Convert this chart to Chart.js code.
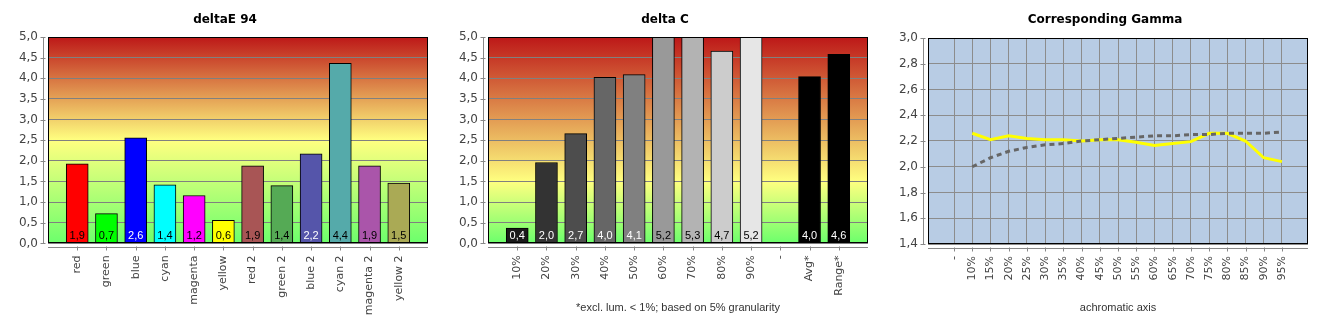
<!DOCTYPE html>
<html>
<head>
<meta charset="utf-8">
<title>deltaE 94 / delta C / Corresponding Gamma</title>
<script src="https://cdn.jsdelivr.net/npm/chart.js@4.4.1/dist/chart.umd.min.js"></script>
<style>
  html, body { margin: 0; padding: 0; background: #fff; }
  #wrap { position: relative; width: 1330px; height: 330px; }
  canvas { position: absolute; top: 0; }
</style>
</head>
<body>
<div id="wrap">
  <canvas id="deltaE" width="440" height="330" style="left:0"></canvas>
  <canvas id="deltaC" width="440" height="330" style="left:440px"></canvas>
  <canvas id="gamma" width="440" height="330" style="left:880px"></canvas>
</div>
<script>
// deltaE 94
const deltaELabels = ['red', 'green', 'blue', 'cyan', 'magenta', 'yellow', 'red 2', 'green 2', 'blue 2', 'cyan 2', 'magenta 2', 'yellow 2'];
const deltaEValues = [1.93, 0.72, 2.56, 1.42, 1.16, 0.56, 1.88, 1.40, 2.17, 4.36, 1.88, 1.46];
const deltaEColors = ['#ff0000', '#00ff00', '#0000ff', '#00ffff', '#ff00ff', '#ffff00', '#a85555', '#55aa55', '#5555aa', '#55aaaa', '#aa55aa', '#aaaa55'];
const deltaETextColors = ['#000', '#000', '#fff', '#000', '#000', '#000', '#000', '#000', '#fff', '#000', '#000', '#000'];

// delta C
const deltaCLabels = ['10%', '20%', '30%', '40%', '50%', '60%', '70%', '80%', '90%', '-', 'Avg*', 'Range*'];
const deltaCValues = [0.37, 1.96, 2.66, 4.02, 4.09, 5.2, 5.3, 4.66, 5.2, null, 4.04, 4.58];
const deltaCColors = ['#1a1a1a', '#333333', '#4d4d4d', '#666666', '#808080', '#999999', '#b3b3b3', '#cccccc', '#e6e6e6', '#000000', '#000000', '#000000'];
const deltaCTextColors = ['#fff', '#fff', '#fff', '#fff', '#fff', '#000', '#000', '#000', '#000', '#fff', '#fff', '#fff'];
const deltaCNote = '*excl. lum. < 1%; based on 5% granularity';

// Corresponding Gamma
const gammaLabels = ['-', '10%', '15%', '20%', '25%', '30%', '35%', '40%', '45%', '50%', '55%', '60%', '65%', '70%', '75%', '80%', '85%', '90%', '95%'];
const gammaMeasured = [null, 2.26, 2.21, 2.24, 2.22, 2.21, 2.21, 2.20, 2.21, 2.21, 2.19, 2.165, 2.18, 2.195, 2.26, 2.26, 2.20, 2.07, 2.04];
const gammaTarget = [null, 2.00, 2.07, 2.12, 2.15, 2.17, 2.18, 2.20, 2.21, 2.22, 2.23, 2.24, 2.24, 2.25, 2.25, 2.26, 2.26, 2.26, 2.27];

Chart.defaults.font.family = '"DejaVu Sans", sans-serif';

const comma = v => v.toFixed(1).replace('.', ',');

function panelTitle(text) {
    return {
        id: 'panelTitle',
        afterDraw(chart) {
            const ctx = chart.ctx;
            ctx.save();
            ctx.font = 'bold 12px "DejaVu Sans"';
            ctx.fillStyle = '#000';
            ctx.textAlign = 'center';
            ctx.textBaseline = 'middle';
            ctx.fillText(text, 225, 20);
            ctx.restore();
        }
    };
}

function plotBackground(stops) {
    return {
        id: 'plotBackground',
        beforeDraw(chart) {
            const { ctx, chartArea: a } = chart;
            ctx.save();
            if (Array.isArray(stops)) {
                const g = ctx.createLinearGradient(0, a.top, 0, a.bottom);
                stops.forEach(s => g.addColorStop(s[0], s[1]));
                ctx.fillStyle = g;
            } else {
                ctx.fillStyle = stops;
            }
            ctx.fillRect(a.left, a.top, a.right - a.left, a.bottom - a.top);
            ctx.restore();
        }
    };
}

// frame round the plot, plus the offset axis lines with their tick marks
const frameAndAxes = {
    id: 'frameAndAxes',
    afterDraw(chart) {
        const { ctx, chartArea: a, scales: { x, y } } = chart;
        ctx.save();
        ctx.lineWidth = 1;
        ctx.strokeStyle = '#000';
        ctx.strokeRect(Math.round(a.left) + 0.5, Math.round(a.top) + 0.5,
            Math.round(a.right - a.left) - 1, Math.round(a.bottom - a.top) - 1);

        ctx.strokeStyle = '#888';
        ctx.beginPath();
        const ax = Math.round(a.left) - 5 + 0.5;
        ctx.moveTo(ax, a.top);
        ctx.lineTo(ax, a.bottom);
        y.ticks.forEach(t => {
            const py = Math.round(y.getPixelForValue(t.value)) + 0.5;
            ctx.moveTo(ax - 3, py);
            ctx.lineTo(ax + 2, py);
        });
        const ay = Math.round(a.bottom) + 4 + 0.5;
        ctx.moveTo(a.left, ay);
        ctx.lineTo(a.right, ay);
        x.ticks.forEach(t => {
            const px = Math.round(x.getPixelForValue(t.value)) + 0.5;
            ctx.moveTo(px, ay - 1);
            ctx.lineTo(px, ay + 3);
        });
        ctx.stroke();
        ctx.restore();
    }
};

function barValues(textColors) {
    return {
        id: 'barValues',
        afterDatasetsDraw(chart) {
            const { ctx, chartArea: a } = chart;
            const meta = chart.getDatasetMeta(0);
            const ds = chart.data.datasets[0];
            ctx.save();
            ctx.font = '11px "Liberation Sans"';
            ctx.textAlign = 'center';
            ctx.textBaseline = 'middle';
            meta.data.forEach((bar, i) => {
                const v = ds.data[i].y;
                if (v === null) return;
                ctx.fillStyle = textColors[i];
                ctx.fillText(comma(v), bar.x, a.bottom - 7.5);
            });
            ctx.restore();
        }
    };
}

const tickFont = { family: '"DejaVu Sans"', size: 12 };
const catFont = { family: '"DejaVu Sans"', size: 11 };

function barChart(id, title, labels, values, colors, textColors, stops, note) {
    return new Chart(document.getElementById(id), {
        type: 'bar',
        data: {
            datasets: [{
                data: values.map((v, i) => ({ x: i, y: v })),
                backgroundColor: colors,
                borderColor: '#000',
                borderWidth: 1,
                borderSkipped: false,
                barThickness: 22
            }]
        },
        options: {
            responsive: false,
            animation: false,
            layout: { padding: { top: 37, right: 12, left: 0, bottom: 0 } },
            plugins: { legend: { display: false }, tooltip: { enabled: false } },
            scales: {
                x: {
                    type: 'linear',
                    min: -1,
                    max: labels.length,
                    bounds: 'data',
                    offset: false,
                    grid: { display: false, drawTicks: false, offset: false },
                    border: { display: false },
                    afterBuildTicks: s => { s.ticks = labels.map((_, i) => ({ value: i })); },
                    afterFit: s => { s.height = 86.6; s.paddingLeft = 0; s.paddingRight = 0; },
                    ticks: {
                        autoSkip: false, minRotation: 90, maxRotation: 90, padding: 12,
                        color: '#444', font: catFont,
                        callback: v => labels[v]
                    },
                    title: {
                        display: !!note, text: note || '', color: '#333',
                        font: { family: '"Liberation Sans"', size: 11 },
                        padding: { top: 0, bottom: 15 }
                    }
                },
                y: {
                    min: 0,
                    max: 5,
                    grid: { color: '#808080', drawTicks: false },
                    border: { display: false },
                    afterFit: s => { s.width = 48; s.paddingTop = 0; s.paddingBottom = 0; },
                    ticks: { stepSize: 0.5, padding: 10, color: '#444', font: tickFont, callback: v => comma(v) }
                }
            }
        },
        plugins: [plotBackground(stops), frameAndAxes, barValues(textColors), panelTitle(title)]
    });
}

barChart('deltaE', 'deltaE 94', deltaELabels, deltaEValues, deltaEColors, deltaETextColors,
    [[0, '#bd1818'], [0.5, '#ffff80'], [1, '#6cff6c']], null);

barChart('deltaC', 'delta C', deltaCLabels, deltaCValues, deltaCColors, deltaCTextColors,
    [[0, '#bd1818'], [0.7, '#ffff80'], [1, '#6cff6c']], deltaCNote);

new Chart(document.getElementById('gamma'), {
    type: 'line',
    data: {
        datasets: [{
            data: gammaTarget.map((v, i) => ({ x: i, y: v })),
            borderColor: '#666666',
            borderWidth: 3,
            borderDash: [5, 4],
            pointRadius: 0,
            tension: 0,
            fill: false
        }, {
            data: gammaMeasured.map((v, i) => ({ x: i, y: v })),
            borderColor: '#ffff00',
            borderWidth: 3,
            pointRadius: 0,
            tension: 0,
            fill: false
        }]
    },
    options: {
        responsive: false,
        animation: false,
        layout: { padding: { top: 38, right: 12, left: 0, bottom: 0 } },
        plugins: { legend: { display: false }, tooltip: { enabled: false } },
        scales: {
            x: {
                type: 'linear',
                min: -1.43,
                max: gammaLabels.length - 1 + 1.43,
                bounds: 'data',
                grid: { color: '#8c8c8c', drawTicks: false },
                border: { display: false },
                afterBuildTicks: s => { s.ticks = gammaLabels.map((_, i) => ({ value: i })); },
                afterFit: s => { s.height = 86; s.paddingLeft = 0; s.paddingRight = 0; },
                ticks: {
                    autoSkip: false, minRotation: 90, maxRotation: 90, padding: 12,
                    color: '#444', font: catFont,
                    callback: v => gammaLabels[v]
                },
                title: {
                    display: true, text: 'achromatic axis', color: '#333',
                    font: { family: '"Liberation Sans"', size: 11 },
                    padding: { top: 0, bottom: 15 }
                }
            },
            y: {
                min: 1.4,
                max: 3.0,
                grid: { color: '#8c8c8c', drawTicks: false },
                border: { display: false },
                afterFit: s => { s.width = 48; s.paddingTop = 0; s.paddingBottom = 0; },
                ticks: { stepSize: 0.2, padding: 10, color: '#444', font: tickFont, callback: v => comma(v) }
            }
        }
    },
    plugins: [plotBackground('#b8cce4'), frameAndAxes, panelTitle('Corresponding Gamma')]
});
</script>
</body>
</html>
